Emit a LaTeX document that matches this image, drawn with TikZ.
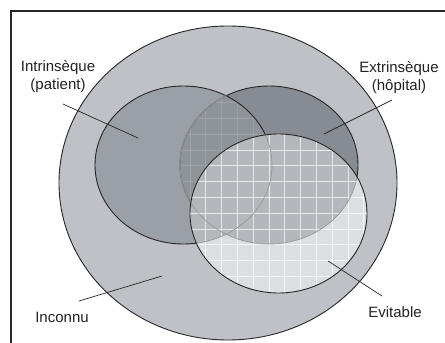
\documentclass[tikz,border=0pt]{standalone}
\usepackage{fontspec}
\setmainfont{Liberation Sans}
\definecolor{outerc}{HTML}{BFC1C6}
\definecolor{intrc}{HTML}{9BA0A6}
\definecolor{extrc}{HTML}{878C92}
\definecolor{iec}{HTML}{8F9499}
\definecolor{evlc}{HTML}{DDDEE1}
\definecolor{evdc}{HTML}{B4B7BB}
\definecolor{txtc}{HTML}{222222}
\tikzset{
  pO/.style={insert path={(228,183) ellipse [x radius=169, y radius=157]}},
  pI/.style={insert path={(183.5,165) ellipse [x radius=88.5, y radius=79]}},
  pE/.style={insert path={(269,165) ellipse [x radius=89, y radius=79]}},
  pV/.style={insert path={(278.5,213.5) ellipse [x radius=88.5, y radius=79.5]}},
  outl/.style={line width=0.9pt, black!85},
  leader/.style={line width=0.7pt, black!85},
  lbl/.style={font=\fontsize{15}{18}\selectfont, text=txtc, align=center, inner sep=0pt},
  gridln/.style={white, line width=0.7pt},
}
\begin{document}
\begin{tikzpicture}[x=1pt,y=-1pt]
\useasboundingbox (0,0) rectangle (445,343);
\fill[white] (0,0) rectangle (445,343);
\draw[line width=2.2pt, black!85] (11,11) rectangle (470,370);
% outer
\fill[outerc][pO];
\draw[outl][pO];
% intrinsic and extrinsic
\fill[intrc][pI];
\fill[extrc][pE];
\begin{scope}
  \clip[pI];
  \fill[iec][pE];
  \begin{scope}
    \clip[pE];
    \foreach \i in {0,...,28} \draw[gridln, opacity=0.12] (\i*15.8+0.3,0) -- (\i*15.8+0.3,343);
    \foreach \j in {0,...,22} \draw[gridln, opacity=0.12] (0,\j*15.8+7.8) -- (445,\j*15.8+7.8);
  \end{scope}
\end{scope}
\draw[outl][pI];
\draw[outl][pE];
\begin{scope}
  \clip[pI];
  \draw[line width=1.2pt, iec][pE];
  \draw[line width=0.7pt, black!45][pE];
\end{scope}
% evitable
\fill[evlc][pV];
\begin{scope}
  \clip[pV];
  \fill[evdc][pI];
  \fill[evdc][pE];
  \foreach \i in {0,...,28} \draw[gridln, opacity=0.7] (\i*15.8+0.3,0) -- (\i*15.8+0.3,343);
  \foreach \j in {0,...,22} \draw[gridln, opacity=0.7] (0,\j*15.8+7.8) -- (445,\j*15.8+7.8);
  \draw[line width=0.7pt, black!40][pI];
  \draw[line width=0.7pt, black!40][pE];
\end{scope}
\draw[outl][pV];
% labels
\node[lbl] (lintr) at (58,77) {Intrinsèque\\(patient)};
\node[lbl] (lextr) at (399,78) {Extrinsèque\\(hôpital)};
\node[lbl] (linc) at (62,317) {Inconnu};
\node[lbl] (lev) at (395,312) {Evitable};
% leader end points
\coordinate (a1) at (63,104);  \coordinate (a2) at (138,138);
\coordinate (b1) at (392,100); \coordinate (b2) at (324,134);
\coordinate (c1) at (79,301);  \coordinate (c2) at (162,276);
\coordinate (d1) at (382,296); \coordinate (d2) at (328,261);
\draw[leader] (a1) -- (a2);
\draw[leader] (b1) -- (b2);
\draw[leader] (c1) -- (c2);
\draw[leader] (d1) -- (d2);
\end{tikzpicture}
\end{document}
